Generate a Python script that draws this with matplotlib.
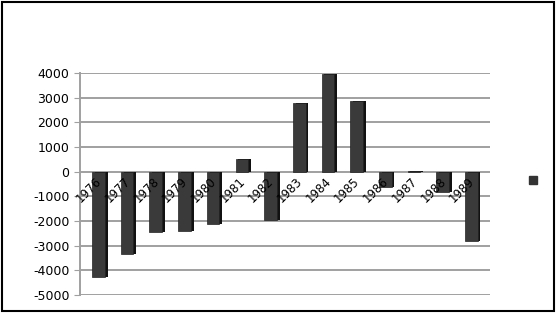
import matplotlib.pyplot as plt
from matplotlib.patches import Rectangle

years = ["1976", "1977", "1978", "1979", "1980", "1981", "1982",
         "1983", "1984", "1985", "1986", "1987", "1988", "1989"]
values = [-4250, -3350, -2450, -2400, -2100, 500, -1950,
          2800, 3950, 2850, -600, 50, -800, -2800]
y_ticks = list(range(-5000, 4001, 1000))

fig = plt.figure(figsize=(5.58, 3.15), dpi=100)
ax = fig.add_axes([0.143, 0.063, 0.735, 0.705])

x = list(range(len(years)))
# depth face behind the front face for the old 3D look
ax.bar([i + 0.1 for i in x], values, width=0.44, color="#111111", zorder=2)
ax.bar(x, values, width=0.44, color="#3a3a3a", edgecolor="#222222",
       linewidth=0.5, zorder=3)

for t in y_ticks:
    ax.axhline(t, color="#a0a0a0", linewidth=1.4, zorder=1)

ax.set_xlim(-0.65, len(years) - 0.35)
ax.set_ylim(-5000, 4000)
ax.set_yticks(y_ticks)
ax.set_yticklabels([str(t) for t in y_ticks], fontsize=9)
ax.tick_params(axis="y", length=4, color="#a0a0a0")
ax.set_xticks([])

for i, yr in enumerate(years):
    ax.text(i + 0.2, -120, yr, rotation=45, ha="right", va="top",
            fontsize=8.5, zorder=4)

for side in ["top", "right", "bottom"]:
    ax.spines[side].set_visible(False)
ax.spines["left"].set_color("#a0a0a0")
ax.spines["left"].set_linewidth(1.4)
ax.set_facecolor("none")

# legend marker without text
fig.add_artist(Rectangle((0.948, 0.415), 0.014, 0.025,
                         transform=fig.transFigure, color="#333333"))
# frame
fig.add_artist(Rectangle((0.004, 0.012), 0.988, 0.982, transform=fig.transFigure,
                         fill=False, edgecolor="black", linewidth=1.5))

fig.savefig("out.png", dpi=100)
